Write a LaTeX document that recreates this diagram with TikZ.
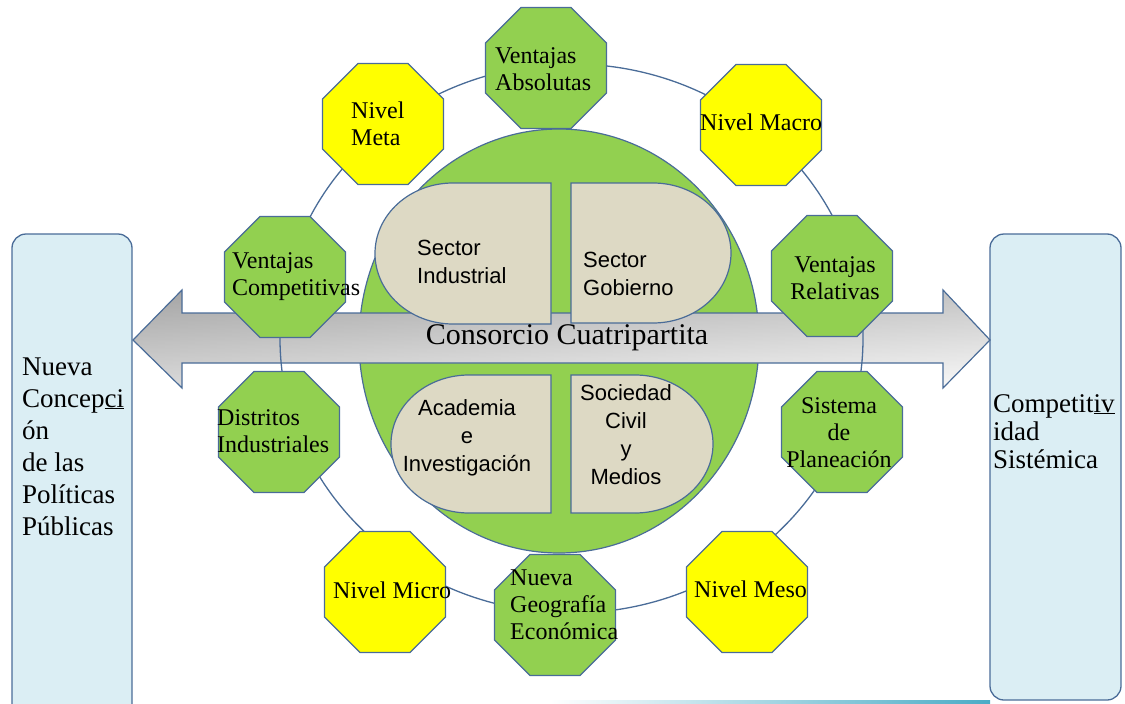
\documentclass[tikz,border=0pt]{standalone}
\usepackage{fontspec}
\setmainfont{Liberation Serif}
\setsansfont{Liberation Sans}
\usetikzlibrary{shapes.geometric}
\definecolor{lnblue}{HTML}{4A6C98}
\definecolor{leaf}{HTML}{92D050}
\definecolor{lemon}{HTML}{FFFF00}
\definecolor{sand}{HTML}{DDD9C4}
\definecolor{ice}{HTML}{DBEEF4}
\definecolor{sea}{HTML}{4BACC6}

\begin{document}
\begin{tikzpicture}[x=1pt,y=-1pt,
  oct/.style={regular polygon,regular polygon sides=8,minimum size=131pt,inner sep=0pt,draw=lnblue,line width=1.2pt,fill=#1},
  otxt/.style={font=\fontsize{24}{27}\selectfont,align=left,inner sep=0pt,anchor=base west},
  octr/.style={otxt,align=center,anchor=base},
  qtxt/.style={font=\sffamily\fontsize{22}{28}\selectfont,align=left,inner sep=0pt,anchor=base west},
  qctr/.style={qtxt,align=center,anchor=base},
  quad/.style={fill=sand,draw=lnblue,line width=1.2pt},
  side/.style={fill=ice,draw=lnblue,line width=1.3pt,rounded corners=14pt}]
  \useasboundingbox (0,0) rectangle (1125,704);
  \shade[left color=white,right color=sea] (550,700) rectangle (990,704);
  % side boxes
  \draw[side] (12,234) rectangle (132,760);
  \draw[side] (990,234) rectangle (1121,700);
  \node[font=\fontsize{27}{32}\selectfont,align=left,inner sep=0pt,anchor=base west] (np) at (22,535)
    {Nueva\\Concep\underline{ci}\\ón\\de las\\Políticas\\Públicas};
  \node[font=\fontsize{27}{28}\selectfont,align=left,inner sep=0pt,anchor=base west] (cs) at (993,468)
    {Competit\underline{iv}\\idad\\Sistémica};
  % centre
  \draw[fill=leaf,draw=lnblue,line width=1.2pt] (559,341) ellipse [x radius=200,y radius=212];
  \path (133,340) coordinate (al) (990,340) coordinate (ar);
  \shade[top color=black!32,bottom color=black!3] (al) -- (182,290) -- (182,313) -- (943,313) -- (943,290) -- (ar)
    -- (943,388) -- (943,363) -- (182,363) -- (182,388) -- cycle;
  \shade[left color=black!45,right color=white,opacity=.28] (al) -- (182,290) -- (182,313) -- (943,313) -- (943,290) -- (ar)
    -- (943,388) -- (943,363) -- (182,363) -- (182,388) -- cycle;
  \draw[lnblue,line width=1.2pt] (al) -- (182,290) -- (182,313) -- (943,313) -- (943,290) -- (ar)
    -- (943,388) -- (943,363) -- (182,363) -- (182,388) -- cycle;
  \draw[lnblue,line width=1.3pt] (571.5,338.5) ellipse [x radius=291.5,y radius=274.5];
  % octagons
  \node[oct=leaf] (va) at (546,68) {};
  \node[oct=lemon] (nma) at (761,125) {};
  \node[oct=leaf] (vr) at (832,276) {};
  \node[oct=leaf] (sp) at (842,432) {};
  \node[oct=lemon] (nme) at (747,592) {};
  \node[oct=leaf] (nge) at (555,615) {};
  \node[oct=lemon] (nmi) at (385,592) {};
  \node[oct=leaf] (di) at (279,432) {};
  \node[oct=leaf] (vc) at (285,277) {};
  \node[oct=lemon] (nmt) at (383,124) {};
  \node[otxt] (va-t) at (495,90) {Ventajas\\Absolutas};
  \node[otxt] (nma-t) at (700,130) {Nivel Macro};
  \node[octr] (vr-t) at (835,299) {Ventajas\\Relativas};
  \node[octr] (sp-t) at (839,467) {Sistema\\de\\Planeación};
  \node[otxt] (nme-t) at (694,597) {Nivel Meso};
  \node[otxt] (nge-t) at (510,639) {Nueva\\Geografía\\Económica};
  \node[otxt] (nmi-t) at (333,598) {Nivel Micro};
  \node[otxt] (di-t) at (217,452) {Distritos\\Industriales};
  \node[otxt] (vc-t) at (232,295) {Ventajas\\Competitivas};
  \node[otxt] (nmt-t) at (351,145) {Nivel\\Meta};
  % quadrants
  \draw[quad] (551,183) -- (453,183) arc[start angle=270,end angle=90,x radius=78,y radius=70.5] -- (551,324) -- cycle;
  \draw[quad] (571,183) -- (653,183) arc[start angle=270,end angle=450,x radius=78,y radius=70] -- (571,323) -- cycle;
  \draw[quad] (551,375) -- (469,375) arc[start angle=270,end angle=90,x radius=78,y radius=69] -- (551,513) -- cycle;
  \draw[quad] (571,375) -- (635,375) arc[start angle=270,end angle=450,x radius=78,y radius=69] -- (571,513) -- cycle;
  \node[qtxt] (si) at (417,283) {Sector\\Industrial};
  \node[qtxt] (sg) at (583,295) {Sector\\Gobierno};
  \node[qctr] (ai) at (467,471) {Academia\\e\\Investigación};
  \node[qctr] (sc) at (626,484) {Sociedad\\Civil\\y\\Medios};
  \node[font=\fontsize{30}{32}\selectfont,inner sep=0pt] (cc) at (567,338) {Consorcio Cuatripartita};
\end{tikzpicture}
\end{document}
